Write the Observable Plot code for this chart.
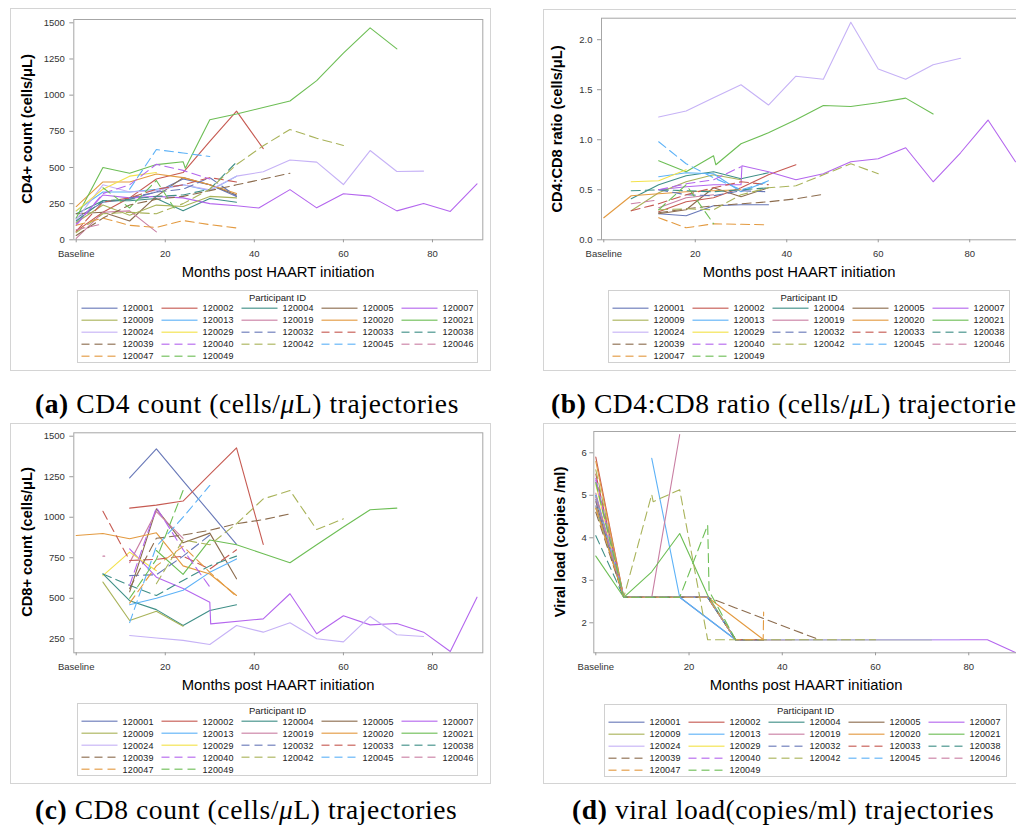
<!DOCTYPE html>
<html><head><meta charset="utf-8">
<script src="https://cdn.jsdelivr.net/npm/d3@7"></script>
<script src="https://cdn.jsdelivr.net/npm/@observablehq/plot@0.6"></script>
<style>
html,body{margin:0;padding:0;}
body{width:1016px;height:831px;overflow:hidden;background:#fff;position:relative;font-family:"Liberation Sans",Arial,sans-serif;}
.frame{position:absolute;border:1px solid #d4d4d4;box-sizing:border-box;}
.holder{position:absolute;}
.ytitle{position:absolute;font-weight:bold;font-size:14.6px;color:#000;transform:translate(-50%,-50%) rotate(-90deg);white-space:nowrap;}
.xtitle{position:absolute;font-size:14.8px;color:#000;transform:translate(-50%,-50%);white-space:nowrap;}
.legend{position:absolute;border:1px solid #d0d0d0;box-sizing:border-box;background:#fff;}
.ltitle{position:absolute;font-size:9.5px;color:#222;transform:translate(-50%,-50%);white-space:nowrap;}
.ltext{position:absolute;font-size:9px;color:#222;transform:translateY(-50%);white-space:nowrap;letter-spacing:0.2px;}
.caption{position:absolute;font-family:"Liberation Serif","DejaVu Serif",serif;font-size:27.5px;letter-spacing:0.6px;color:#000;white-space:nowrap;}
</style></head><body>
<script>
// ---------- data ----------
const ids = ["120001","120002","120004","120005","120007","120009","120013","120019","120020","120021","120024","120029","120032","120033","120038","120039","120040","120042","120045","120046","120047","120049"];
const colors = ["#6878B8","#C65A52","#3F8F87","#8C6C4E","#B466EE","#A9B35A","#5DB2F7","#C97FA3","#E39A40","#6DBE55","#C6B2F6","#F3E24A","#6878B8","#C65A52","#3F8F87","#8C6C4E","#B466EE","#A9B35A","#5DB2F7","#C97FA3","#E39A40","#6DBE55"];
const dashedIds = ["120032","120033","120038","120039","120040","120042","120045","120046","120047","120049"];
const monthTicks = [0,20,40,60,80];

// (a) CD4 count (cells/uL): [month, value]
const cd4Series = [
 ["120001",[[0,150],[6,260],[12,280],[18,330],[24,420],[30,380],[36,300]]],
 ["120002",[[0,60],[6,190],[12,290],[18,420],[24,465],[30,680],[36,890],[42,630]]],
 ["120004",[[0,180],[6,270],[12,270],[18,285],[24,200],[30,285],[36,260]]],
 ["120005",[[0,180],[6,190],[12,130],[18,300],[24,430],[30,380],[36,310]]],
 ["120007",[[0,110],[6,310],[12,290],[18,300],[24,290],[30,250],[36,235],[41,220],[48,347],[54,221],[60,318],[66,302],[72,200],[78,251],[84,196],[90,387]]],
 ["120009",[[0,120],[6,240],[12,170],[18,240],[24,230],[30,300],[36,290]]],
 ["120013",[[0,200],[6,330],[12,330],[18,350],[24,380],[30,340],[36,440]]],
 ["120019",[[0,10],[6,190],[12,200],[18,55]]],
 ["120020",[[0,230],[6,400],[12,400],[18,455],[24,430],[30,380],[36,320]]],
 ["120021",[[0,150],[6,500],[12,460],[18,520],[24,540],[24.5,495],[30,830],[36,870],[42,915],[48,960],[54,1100],[60,1290],[66,1465],[72,1320]]],
 ["120024",[[0,140],[6,380],[12,330],[18,340],[24,380],[30,345],[36,440],[42,470],[48,552],[54,537],[60,382],[66,617],[72,472],[78,475]]],
 ["120029",[[0,200],[6,350],[12,440],[18,465]]],
 ["120032",[[12,290],[18,330],[24,350],[30,430],[36,300]]],
 ["120033",[[0,60],[6,260],[12,290],[18,350],[24,380],[30,430],[36,400]]],
 ["120038",[[0,130],[6,270],[12,280],[18,300],[24,310],[30,350],[36,537]]],
 ["120039",[[0,30],[6,150],[12,240],[18,280],[24,300],[30,340],[36,380],[42,420],[48,460]]],
 ["120040",[[0,100],[6,320],[12,380],[18,522],[24,480],[30,420]]],
 ["120042",[[0,50],[6,180],[12,190],[18,180],[24,250],[30,350],[36,520],[42,650],[48,763],[54,702],[60,652]]],
 ["120045",[[12,350],[18,624],[24,600],[30,576]]],
 ["120046",[[0,70],[6,110]]],
 ["120047",[[0,100],[6,150],[12,100],[18,85],[24,133],[30,105],[36,82],[36.5,100]]],
 ["120049",[[6,360],[12,220],[18,410],[22,220]]]
];

// (b) CD4:CD8 ratio
const ratioSeries = [
 ["120001",[[12,0.26],[18,0.24],[24,0.34],[30,0.35],[36,0.35]]],
 ["120002",[[12,0.28],[18,0.38],[24,0.42],[30,0.52],[36,0.65],[42,0.75]]],
 ["120004",[[6,0.41],[12,0.55],[18,0.64],[24,0.68],[30,0.61],[36,0.67]]],
 ["120005",[[12,0.26],[18,0.30],[24,0.52],[30,0.43],[36,0.52]]],
 ["120007",[[12,0.50],[18,0.53],[24,0.55],[30,0.55],[30.2,0.74],[36,0.68],[42,0.60],[48,0.66],[54,0.78],[60,0.81],[66,0.92],[72,0.58],[78,0.87],[84,1.197],[90,0.78]]],
 ["120009",[[6,0.29],[12,0.47],[18,0.58],[24,0.65],[30,0.60]]],
 ["120013",[[12,0.63],[18,0.67],[24,0.66],[30,0.48],[36,0.59]]],
 ["120019",[[12,0.32],[18,0.42],[24,0.45]]],
 ["120020",[[0,0.22],[6,0.44],[12,0.46],[18,0.48],[24,0.49],[30,0.50]]],
 ["120021",[[12,0.79],[18,0.68],[24,0.84],[24.5,0.75],[30,0.96],[36,1.07],[42,1.2],[48,1.343],[54,1.333],[60,1.37],[66,1.416],[72,1.257]]],
 ["120024",[[12,1.227],[18,1.287],[24,1.42],[30,1.55],[36,1.347],[42,1.635],[48,1.605],[54,2.175],[60,1.708],[66,1.605],[72,1.75],[78,1.814]]],
 ["120029",[[6,0.58],[12,0.59],[18,0.70]]],
 ["120032",[[12,0.50],[18,0.45],[24,0.44],[30,0.49],[36,0.48]]],
 ["120033",[[6,0.29],[12,0.36],[18,0.45],[24,0.52],[30,0.58],[36,0.55]]],
 ["120038",[[6,0.49],[12,0.50],[18,0.49],[24,0.48],[30,0.50],[36,0.52]]],
 ["120039",[[12,0.27],[18,0.31],[24,0.34],[30,0.36],[36,0.38],[42,0.41],[48,0.454]]],
 ["120040",[[12,0.50],[18,0.56],[24,0.60],[30,0.73]]],
 ["120042",[[12,0.30],[18,0.31],[24,0.30],[30,0.45],[36,0.52],[42,0.54],[48,0.65],[54,0.76],[60,0.66]]],
 ["120045",[[12,0.98],[18,0.76],[24,0.62],[30,0.50],[36,0.58]]],
 ["120046",[[6,0.36],[12,0.40]]],
 ["120047",[[12,0.22],[18,0.12],[24,0.16],[30,0.155],[36,0.15]]],
 ["120049",[[12,0.30],[18,0.55],[24,0.16]]]
];

// (c) CD8 count (cells/uL)
const cd8Series = [
 ["120001",[[12,1243],[18,1422],[24,1225],[30,1030],[36,832]]],
 ["120002",[[12,1056],[18,1075],[24,1100],[30,1265],[36,1428],[42,832]]],
 ["120004",[[6,650],[12,485],[18,430],[24,332],[30,425],[36,460]]],
 ["120005",[[12,540],[18,1052],[24,842],[30,902],[36,620]]],
 ["120007",[[12,805],[18,630],[24,560],[30,476],[30.2,342],[42,373],[48,528],[54,281],[60,392],[66,336],[72,344],[78,291],[84,172],[90,507]]],
 ["120009",[[6,600],[12,363],[18,420],[24,328]]],
 ["120013",[[12,460],[18,500],[24,550],[30,660],[36,743]]],
 ["120019",[[12,720],[18,1035],[24,870]]],
 ["120020",[[0,887],[6,900],[12,867],[18,904],[24,700],[30,650],[36,517]]],
 ["120021",[[18,795],[24,647],[30,860],[36,830],[42,775],[48,719],[54,830],[60,940],[66,1046],[72,1056]]],
 ["120024",[[12,270],[18,255],[24,240],[30,215],[36,332],[42,291],[48,349],[54,250],[60,231],[66,388],[72,275],[78,264]]],
 ["120029",[[6,640],[12,785],[18,670]]],
 ["120032",[[12,640],[18,645],[24,760],[30,890]]],
 ["120033",[[6,1037],[12,733],[18,740],[24,760],[30,680],[36,799]]],
 ["120038",[[6,650],[12,580],[18,517],[24,610],[30,700],[36,760]]],
 ["120039",[[12,560],[18,870],[24,890],[30,920],[36,960],[42,985],[48,1021]]],
 ["120040",[[12,580],[18,1060],[24,800],[30,570]]],
 ["120042",[[18,590],[24,860],[30,830],[36,960],[42,1113],[48,1165],[54,924],[60,990]]],
 ["120045",[[12,350],[18,820],[24,1000],[30,1196]]],
 ["120046",[[6,760],[6.4,760]]],
 ["120047",[[12,470],[18,700],[24,820],[30,660],[36,510]]],
 ["120049",[[12,500],[18,740],[24,1165]]]
];

// (d) viral load (log copies/ml)
const vlSeries = [
 ["120001",[[0,4.75],[6,2.6],[12,2.6],[18,2.6],[30,1.6],[36,1.6]]],
 ["120002",[[0,5.9],[6,2.6],[12,2.6],[18,2.6],[24,2.6],[30,1.6],[36,1.6],[42,1.6]]],
 ["120004",[[0,5.0],[6,2.6],[12,2.6],[18,2.6],[24,2.6],[30,1.6],[36,1.6]]],
 ["120005",[[0,4.85],[6,2.6],[12,2.6],[18,2.6],[24,2.6],[30,1.6],[36,1.6]]],
 ["120007",[[0,5.4],[6,2.6],[12,2.6],[18,2.6],[24,2.6],[30,1.6],[36,1.6],[42,1.6],[48,1.6],[54,1.6],[60,1.6],[66,1.6],[72,1.6],[78,1.6],[84,1.6],[90,1.3]]],
 ["120009",[[0,4.7],[6,2.6],[12,2.6],[18,2.6],[24,2.6]]],
 ["120013",[[12,5.87],[18,2.6],[30,1.6],[36,1.6]]],
 ["120019",[[0,5.05],[6,2.6],[12,2.6],[18,6.43]]],
 ["120020",[[0,5.8],[6,2.6],[12,2.6],[18,2.6],[24,2.6],[36,1.6]]],
 ["120021",[[0,3.57],[6,2.6],[12,3.2],[18,4.1],[24,2.65],[30,1.6],[36,1.6],[48,1.6],[60,1.6],[72,1.6]]],
 ["120024",[[0,5.3],[6,2.6],[12,2.6],[18,2.6],[24,2.6],[30,1.6],[36,1.6],[48,1.6],[60,1.6],[72,1.6],[78,1.6]]],
 ["120029",[[0,5.25],[6,2.6],[12,2.6],[18,2.6]]],
 ["120032",[[0,4.9],[6,2.6],[12,2.6],[18,2.6],[24,2.6],[30,1.6],[36,1.6]]],
 ["120033",[[0,5.5],[6,2.6],[12,2.6],[18,2.6],[24,2.6],[30,1.6],[36,1.6]]],
 ["120038",[[0,4.05],[6,2.6],[12,2.6],[18,2.6],[24,2.6],[30,1.6],[36,1.6]]],
 ["120039",[[0,4.6],[6,2.6],[12,2.6],[18,2.6],[24,2.6],[30,2.35],[36,2.1],[42,1.85],[48,1.6]]],
 ["120040",[[0,5.35],[6,2.6],[12,2.6],[18,2.6],[24,2.6],[30,1.6]]],
 ["120042",[[0,5.6],[6,2.6],[12,5.02],[12.3,4.85],[18,5.13],[24,1.6],[30,1.6],[36,1.6],[42,1.6],[48,1.6],[54,1.6],[60,1.6]]],
 ["120045",[[0,5.0],[6,2.6],[12,2.6],[18,2.6],[24,2.6],[30,1.6]]],
 ["120046",[[0,4.95],[6,2.6]]],
 ["120047",[[0,4.7],[6,2.6],[12,2.6],[18,2.6],[24,2.6],[30,1.6],[35.9,1.6],[36,2.25]]],
 ["120049",[[0,5.3],[6,2.6],[12,2.6],[18,2.6],[24,4.3],[24.3,2.75],[30,1.6]]]
];

const cd4Ticks = [0,250,500,750,1000,1250,1500];
const ratioTicks = [0,0.5,1.0,1.5,2.0];
const cd8Ticks = [250,500,750,1000,1250,1500];
const vlTicks = [2,3,4,5,6];

// ---------- layout ----------
const panels = [
 {series: cd4Series, yTicks: cd4Ticks, yFmt: d => String(d), xDomain:[-0.54,91.3], yDomain:[0,1523],
  frame:[10,8,481,363], svg:[10,8,480,262], plot:[73.3,19,482.3,239.3], ytitle:"CD4+ count (cells/μL)", yt:[26.5,129], xt:[278,271.5],
  legend:[77,290,401,73], cap:[35,388], capLabel:"(a)", capText:["CD4 count (cells/","μ","L) trajectories"], pad:5},
 {series: ratioSeries, yTicks: ratioTicks, yFmt: d => d.toFixed(1), xDomain:[-0.5,91.1], yDomain:[0,2.215],
  frame:[543,9,500,362], svg:[543,8,485,262], plot:[601,17.7,1020,239.3], ytitle:"CD4:CD8 ratio (cells/μL)", yt:[557,128.5], xt:[799,271.5],
  legend:[608,290,402,73], cap:[551,388], capLabel:"(b)", capText:["CD4:CD8 ratio (cells/","μ","L) trajectories"], pad:5},
 {series: cd8Series, yTicks: cd8Ticks, yFmt: d => String(d), xDomain:[-0.54,91.3], yDomain:[163.6,1521],
  frame:[10,422.7,481,361.5], svg:[10,422,480,262], plot:[73.3,432.3,482.3,652.3], ytitle:"CD8+ count (cells/μL)", yt:[26.5,542], xt:[278,685],
  legend:[77,703.3,401,73], cap:[35,794], capLabel:"(c)", capText:["CD8 count (cells/","μ","L) trajectories"], pad:5},
 {series: vlSeries, yTicks: vlTicks, yFmt: d => String(d), xDomain:[-0.43,91.1], yDomain:[1.294,6.501],
  frame:[543,422.7,500,361.5], svg:[543,422,485,262], plot:[593.3,431,1020,652.3], ytitle:"Viral load (copies /ml)", yt:[560,542], xt:[806,685],
  legend:[604,703.7,403,73], cap:[572,794], capLabel:"(d)", capText:["viral load(copies/ml) trajectories"], pad:3}
];

const body = document.body;
function el(tag, cls, style, html) {
  const e = document.createElement(tag);
  if (cls) e.className = cls;
  Object.assign(e.style, style || {});
  if (html != null) e.innerHTML = html;
  body.appendChild(e);
  return e;
}
const px = v => v + "px";

for (const p of panels) {
  const [fl, ft, fw, fh] = p.frame;
  el("div", "frame", {left: px(fl), top: px(ft), width: px(fw), height: px(fh)});

  const rows = p.series.flatMap(([id, pts]) => pts.map(([m, v]) => ({id, m, v})));
  const solidRows = rows.filter(r => !dashedIds.includes(r.id));
  const dashRows = rows.filter(r => dashedIds.includes(r.id));
  const [sl, st, sw, sh] = p.svg;
  const [pl, pt, pr, pb] = p.plot;

  const chart = Plot.plot({
    width: sw, height: sh,
    marginLeft: pl - sl, marginTop: pt - st, marginRight: sl + sw - pr, marginBottom: st + sh - pb,
    x: {domain: p.xDomain},
    y: {domain: p.yDomain},
    color: {domain: ids, range: colors},
    style: {fontFamily: "'Liberation Sans', Arial, sans-serif", fontSize: "9.5px", color: "#333", background: "transparent", overflow: "visible"},
    marks: [
      Plot.line(solidRows, {x: "m", y: "v", z: "id", stroke: "id", strokeWidth: 1.1}),
      Plot.line(dashRows, {x: "m", y: "v", z: "id", stroke: "id", strokeWidth: 1.1, strokeDasharray: "9,5"}),
      Plot.frame({stroke: "#a6a6a6"}),
      Plot.axisX({ticks: monthTicks, tickFormat: d => d === 0 ? "Baseline" : String(d), tickSize: 3, tickPadding: 7, label: null, stroke: "#999"}),
      Plot.axisY({ticks: p.yTicks, tickFormat: p.yFmt, tickSize: 4, tickPadding: p.pad, label: null, stroke: "#999"})
    ]
  });
  const holder = el("div", "holder", {left: px(sl), top: px(st), width: px(sw), height: px(sh)});
  holder.appendChild(chart);

  el("div", "ytitle", {left: px(p.yt[0]), top: px(p.yt[1])}, p.ytitle);
  el("div", "xtitle", {left: px(p.xt[0]), top: px(p.xt[1])}, "Months post HAART initiation");

  // legend
  const [ll, lt, lw, lh] = p.legend;
  el("div", "legend", {left: px(ll), top: px(lt), width: px(lw), height: px(lh)});
  el("div", "ltitle", {left: px(ll + lw / 2), top: px(lt + 6.5)}, "Participant ID");
  const ns = "http://www.w3.org/2000/svg";
  const lsvg = document.createElementNS(ns, "svg");
  lsvg.setAttribute("width", lw); lsvg.setAttribute("height", lh);
  Object.assign(lsvg.style, {position: "absolute", left: px(ll), top: px(lt), overflow: "visible"});
  body.appendChild(lsvg);
  ids.forEach((id, k) => {
    const col = k % 5, row = Math.floor(k / 5);
    const x = 4.5 + col * 80, y = 18.3 + row * 12;
    const line = document.createElementNS(ns, "line");
    line.setAttribute("x1", x); line.setAttribute("x2", x + 36);
    line.setAttribute("y1", y); line.setAttribute("y2", y);
    line.setAttribute("stroke", colors[k]);
    line.setAttribute("stroke-width", 1.6);
    line.setAttribute("stroke-opacity", 0.75);
    if (dashedIds.includes(id)) line.setAttribute("stroke-dasharray", "8,5");
    lsvg.appendChild(line);
    el("div", "ltext", {left: px(ll + x + 41), top: px(lt + y)}, id);
  });

  // caption
  const t = p.capText;
  const capHtml = "<b>" + p.capLabel + "</b> " + (t.length === 3 ? t[0] + "<i>" + t[1] + "</i>" + t[2] : t[0]);
  el("div", "caption", {left: px(p.cap[0]), top: px(p.cap[1])}, capHtml);
}
</script>
</body></html>
